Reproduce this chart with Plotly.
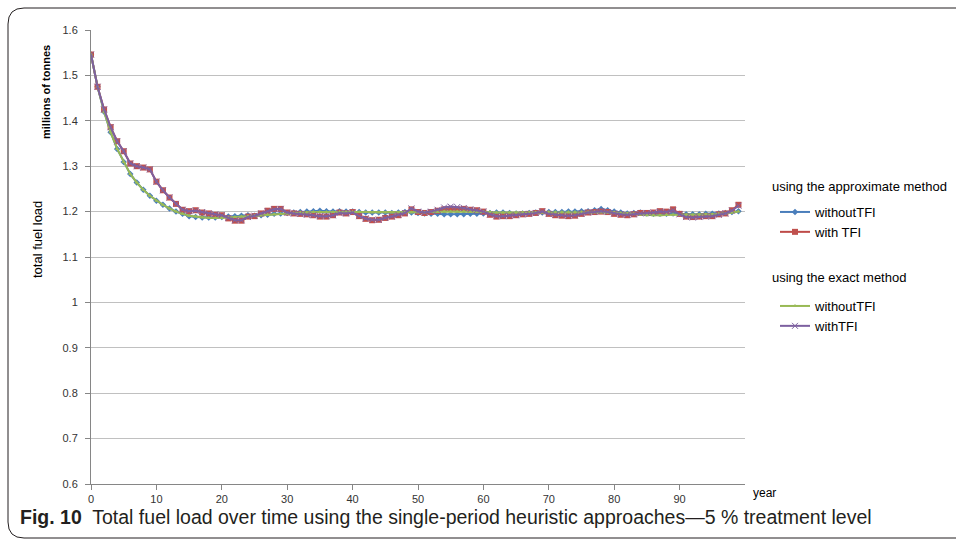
import plotly.graph_objects as go

# Simulation years
years = list(range(100))

# Total fuel load (millions of tonnes) – approximate method
approx_without_tfi = [
    1.546, 1.475, 1.420, 1.375, 1.338, 1.309, 1.283, 1.264, 1.248, 1.235,
    1.224, 1.215, 1.207, 1.200, 1.195, 1.190, 1.188, 1.187, 1.187, 1.187,
    1.188, 1.189, 1.190, 1.191, 1.192, 1.191, 1.192, 1.193, 1.195, 1.196,
    1.197, 1.198, 1.199, 1.200, 1.201, 1.202, 1.201, 1.200, 1.201, 1.200,
    1.200, 1.199, 1.198, 1.198, 1.198, 1.198, 1.197, 1.198, 1.199, 1.198,
    1.197, 1.196, 1.195, 1.195, 1.194, 1.194, 1.194, 1.194, 1.195, 1.195,
    1.196, 1.197, 1.198, 1.198, 1.197, 1.196, 1.196, 1.197, 1.198, 1.198,
    1.199, 1.199, 1.199, 1.200, 1.200, 1.201, 1.201, 1.203, 1.206, 1.203,
    1.200, 1.198, 1.196, 1.197, 1.198, 1.196, 1.195, 1.195, 1.195, 1.196,
    1.195, 1.194, 1.194, 1.194, 1.195, 1.195, 1.196, 1.197, 1.199, 1.201,
]
approx_with_tfi = [
    1.546, 1.475, 1.425, 1.386, 1.355, 1.333, 1.306, 1.300, 1.297, 1.293,
    1.266, 1.247, 1.231, 1.217, 1.204, 1.201, 1.203, 1.198, 1.196, 1.193,
    1.192, 1.185, 1.180, 1.180, 1.189, 1.190, 1.196, 1.202, 1.206, 1.206,
    1.198, 1.196, 1.195, 1.194, 1.192, 1.189, 1.189, 1.192, 1.198, 1.196,
    1.199, 1.190, 1.184, 1.181, 1.182, 1.186, 1.189, 1.192, 1.196, 1.205,
    1.199, 1.197, 1.199, 1.202, 1.205, 1.206, 1.205, 1.206, 1.204, 1.203,
    1.200, 1.193, 1.189, 1.190, 1.190, 1.192, 1.194, 1.195, 1.197, 1.201,
    1.195, 1.192, 1.191, 1.190, 1.191, 1.195, 1.198, 1.199, 1.200, 1.199,
    1.195, 1.193, 1.192, 1.194, 1.197, 1.197, 1.198, 1.201, 1.200, 1.205,
    1.195, 1.189, 1.188, 1.189, 1.190, 1.190, 1.194, 1.196, 1.203, 1.215,
]

# Total fuel load (millions of tonnes) – exact method
exact_without_tfi = [
    1.546, 1.475, 1.420, 1.375, 1.338, 1.309, 1.283, 1.264, 1.248, 1.235,
    1.224, 1.215, 1.207, 1.200, 1.195, 1.191, 1.189, 1.187, 1.186, 1.186,
    1.186, 1.187, 1.188, 1.189, 1.190, 1.191, 1.192, 1.193, 1.194, 1.195,
    1.196, 1.197, 1.198, 1.198, 1.199, 1.199, 1.199, 1.199, 1.199, 1.199,
    1.199, 1.199, 1.199, 1.198, 1.198, 1.198, 1.198, 1.198, 1.198, 1.198,
    1.198, 1.198, 1.199, 1.199, 1.200, 1.200, 1.200, 1.200, 1.199, 1.199,
    1.199, 1.199, 1.198, 1.198, 1.198, 1.198, 1.198, 1.198, 1.198, 1.198,
    1.199, 1.199, 1.199, 1.199, 1.199, 1.199, 1.199, 1.199, 1.199, 1.198,
    1.198, 1.197, 1.196, 1.195, 1.193, 1.192, 1.192, 1.192, 1.193, 1.193,
    1.193, 1.193, 1.193, 1.193, 1.194, 1.194, 1.195, 1.196, 1.198, 1.200,
]
exact_with_tfi = [
    1.546, 1.475, 1.425, 1.386, 1.355, 1.333, 1.306, 1.300, 1.297, 1.293,
    1.266, 1.247, 1.231, 1.217, 1.204, 1.201, 1.202, 1.199, 1.196, 1.194,
    1.192, 1.186, 1.181, 1.181, 1.188, 1.191, 1.196, 1.201, 1.205, 1.206,
    1.198, 1.196, 1.195, 1.193, 1.192, 1.190, 1.190, 1.192, 1.197, 1.196,
    1.198, 1.190, 1.185, 1.182, 1.182, 1.186, 1.189, 1.193, 1.197, 1.207,
    1.200, 1.198, 1.200, 1.204, 1.209, 1.211, 1.210, 1.208, 1.205, 1.203,
    1.200, 1.194, 1.190, 1.190, 1.191, 1.192, 1.194, 1.195, 1.197, 1.200,
    1.195, 1.193, 1.192, 1.191, 1.192, 1.195, 1.198, 1.199, 1.201, 1.199,
    1.196, 1.194, 1.193, 1.194, 1.196, 1.197, 1.198, 1.200, 1.199, 1.203,
    1.194, 1.188, 1.187, 1.188, 1.189, 1.190, 1.193, 1.196, 1.202, 1.213,
]

y_ticks = [0.6, 0.7, 0.8, 0.9, 1.0, 1.1, 1.2, 1.3, 1.4, 1.5, 1.6]
y_tick_text = ["0.6", "0.7", "0.8", "0.9", "1", "1.1", "1.2", "1.3", "1.4", "1.5", "1.6"]
x_ticks = [0, 10, 20, 30, 40, 50, 60, 70, 80, 90]

group_approx = "using the approximate method"
group_exact = "using the exact method"

W, H = 956, 540
L, R, T, B = 91, 745, 30, 484  # plot-area edges in pixels

SANS = "Liberation Sans, Arial, sans-serif"

fig = go.Figure()

fig.add_trace(go.Scatter(
    x=years, y=approx_without_tfi, name="withoutTFI", legend="legend",
    mode="lines+markers",
    line=dict(color="#4a7ebb", width=2),
    marker=dict(symbol="diamond", size=5, color="#4a7ebb"),
))
fig.add_trace(go.Scatter(
    x=years, y=approx_with_tfi, name="with TFI", legend="legend",
    mode="lines+markers",
    line=dict(color="#be4b48", width=2),
    marker=dict(symbol="square", size=6, color="#c0504d"),
))
fig.add_trace(go.Scatter(
    x=years, y=exact_without_tfi, name="withoutTFI", legend="legend2",
    mode="lines+markers",
    line=dict(color="#98b954", width=2),
    marker=dict(symbol="triangle-up", size=4, color="#9bbb59"),
))
fig.add_trace(go.Scatter(
    x=years, y=exact_with_tfi, name="withTFI", legend="legend2",
    mode="lines+markers",
    line=dict(color="#7d60a0", width=2),
    marker=dict(symbol="x-thin-open", size=6, color="#8064a2",
                line=dict(width=1, color="#8064a2")),
))

tick_font = dict(family=SANS, size=11, color="#333333")
legend_font = dict(family=SANS, size=13, color="#000000")


def px_x(px):
    return (px - L) / (R - L)


def px_y(py):
    return (B - py) / (B - T)


fig.update_layout(
    width=W, height=H,
    margin=dict(l=L, r=W - R, t=T, b=H - B),
    paper_bgcolor="white", plot_bgcolor="white",
    showlegend=True,
    legend=dict(
        font=legend_font, x=px_x(775), y=px_y(197),
        xanchor="left", yanchor="top", bgcolor="rgba(0,0,0,0)",
        tracegroupgap=0, itemwidth=30,
    ),
    legend2=dict(
        font=legend_font, x=px_x(775), y=px_y(291),
        xanchor="left", yanchor="top", bgcolor="rgba(0,0,0,0)",
        tracegroupgap=0, itemwidth=30,
    ),
    xaxis=dict(
        range=[0, 100], tickvals=x_ticks, showgrid=False, zeroline=False,
        showline=True, linecolor="#868686", linewidth=1,
        ticks="outside", ticklen=5, tickcolor="#868686",
        tickfont=tick_font,
    ),
    yaxis=dict(
        range=[0.6, 1.6], tickvals=y_ticks, ticktext=y_tick_text,
        showgrid=True, gridcolor="#c0c0c0", gridwidth=1, zeroline=False,
        showline=True, linecolor="#868686", linewidth=1,
        ticks="outside", ticklen=5, tickcolor="#868686",
        tickfont=tick_font, ticklabelstandoff=5,
    ),
)

# Legend group headings
for heading, py in [(group_approx, 186), (group_exact, 277)]:
    fig.add_annotation(
        text=heading, showarrow=False, xref="paper", yref="paper",
        x=px_x(770), y=px_y(py), xanchor="left", yanchor="middle",
        font=legend_font,
    )

# Axis captions
fig.add_annotation(
    text="<b>millions of tonnes</b>", textangle=-90, showarrow=False,
    xref="paper", yref="paper", x=px_x(46), y=px_y(92),
    xanchor="center", yanchor="middle",
    font=dict(family=SANS, size=11, color="#000000"),
)
fig.add_annotation(
    text="total fuel load", textangle=-90, showarrow=False,
    xref="paper", yref="paper", x=px_x(37), y=px_y(240),
    xanchor="center", yanchor="middle",
    font=dict(family=SANS, size=13, color="#000000"),
)
fig.add_annotation(
    text="year", showarrow=False, xref="paper", yref="paper",
    x=px_x(751), y=px_y(493), xanchor="left", yanchor="middle",
    font=dict(family=SANS, size=12, color="#000000"),
)

# Figure caption
fig.add_annotation(
    text="<b>Fig. 10</b>  Total fuel load over time using the single-period heuristic "
         "approaches\u20145 % treatment level",
    showarrow=False, xref="paper", yref="paper",
    x=px_x(18), y=px_y(517), xanchor="left", yanchor="middle",
    font=dict(family=SANS, size=19.5, color="#231f20"),
)

# Rounded frame around the figure (open on the right)
x0, y0, x1, y1 = px_x(8), px_y(8), px_x(970), px_y(538)
rx = 16 / (R - L)
ry = 16 / (B - T)
frame = (f"M {x1},{y0} L {x0 + rx},{y0} Q {x0},{y0} {x0},{y0 - ry} "
         f"L {x0},{y1 + ry} Q {x0},{y1} {x0 + rx},{y1} L {x1},{y1}")
fig.add_shape(type="path", path=frame, xref="paper", yref="paper",
              line=dict(color="#231f20", width=1))

fig.write_html("out.html")
